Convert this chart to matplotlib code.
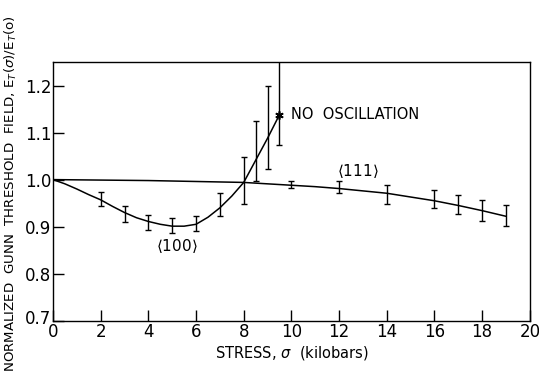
import numpy as np
import matplotlib.pyplot as plt
import matplotlib.transforms as mtransforms

# <100> measurements
x100 = [2, 3, 4, 5, 6, 7, 8, 8.5, 9]
y100 = [0.958, 0.926, 0.908, 0.903, 0.906, 0.947, 0.998, 1.061, 1.111]
e100 = [0.015, 0.017, 0.016, 0.016, 0.016, 0.025, 0.050, 0.063, 0.088]

# <111> measurements
x111 = [10, 12, 14, 16, 17, 18, 19]
y111 = [0.990, 0.984, 0.969, 0.959, 0.947, 0.934, 0.924]
e111 = [0.008, 0.013, 0.020, 0.019, 0.020, 0.023, 0.022]

# no oscillation point
x_no = 9.5
y_no = 1.138
e_no_low = 0.065

# hand drawn curves
cx100 = [0, 0.5, 1, 1.5, 2, 2.5, 3, 3.5, 4, 4.5, 5, 5.5, 6, 6.5, 7, 7.5, 8, 8.5, 9, 9.5]
cy100 = [1.000, 0.991, 0.980, 0.968, 0.957, 0.943, 0.930, 0.919, 0.911, 0.905,
         0.901, 0.901, 0.905, 0.920, 0.940, 0.965, 0.994, 1.041, 1.088, 1.138]
cx111 = [0, 2, 4, 6, 8, 9, 10, 11, 12, 13, 14, 15, 16, 17, 18, 19]
cy111 = [1.000, 0.999, 0.998, 0.996, 0.994, 0.991, 0.988, 0.985, 0.981, 0.976,
         0.971, 0.963, 0.955, 0.945, 0.934, 0.922]

fig = plt.figure(figsize=(5.39, 3.77), dpi=100)
ax = fig.add_axes([0.0983, 0.1493, 0.8847, 0.6862])

ax.plot(cx100, cy100, color='black', lw=1.1)
ax.plot(cx111, cy111, color='black', lw=1.1)

ax.errorbar(x100, y100, yerr=e100, fmt='none', ecolor='black', elinewidth=1.0,
            capsize=2.5, capthick=1.0)
ax.errorbar(x111, y111, yerr=e111, fmt='none', ecolor='black', elinewidth=1.0,
            capsize=2.5, capthick=1.0)
ax.errorbar([x_no], [y_no], yerr=[[e_no_low], [0.5]], fmt='none', ecolor='black',
            elinewidth=1.0, capsize=2.5, capthick=1.0)
ax.plot([x_no], [y_no], marker=(6, 2, 0), color='black', markersize=6, mew=1.2)

ax.text(10.0, y_no, 'NO  OSCILLATION', fontsize=10.5, va='center', ha='left')
ax.text(5.2, 0.859, r'$\langle$100$\rangle$', fontsize=11, ha='center', va='center')
ax.text(12.8, 1.019, r'$\langle$111$\rangle$', fontsize=11, ha='center', va='center')

ax.set_xlim(0, 20)
ax.set_ylim(0.7, 1.25)
ax.set_xticks(range(0, 21, 2))
ax.set_yticks([0.7, 0.8, 0.9, 1.0, 1.1, 1.2])
ax.set_yticklabels(['0.7', '0.8', '0.9', '1.0', '1.1', '1.2'])
ax.tick_params(direction='in', labelsize=12, length=8, width=1.0, top=False, right=False)
ax.tick_params(axis='x', pad=2)
ax.tick_params(axis='y', pad=1)
for s in ax.spines.values():
    s.set_linewidth(1.0)

# lift the bottom y label a little so it clears the x "0"
lbl = ax.get_yticklabels()[0]
lbl.set_transform(lbl.get_transform() + mtransforms.ScaledTranslation(0, 4 / 100, fig.dpi_scale_trans))

ax.set_xlabel(r'STRESS, $\sigma$  (kilobars)', fontsize=10.5, labelpad=2)
ax.set_ylabel(r'NORMALIZED  GUNN  THRESHOLD  FIELD, E$_T$($\sigma$)/E$_T$(o)',
              fontsize=9.6)
ax.yaxis.set_label_coords(-0.072, 0.49)

fig.savefig('out.png', dpi=100)
